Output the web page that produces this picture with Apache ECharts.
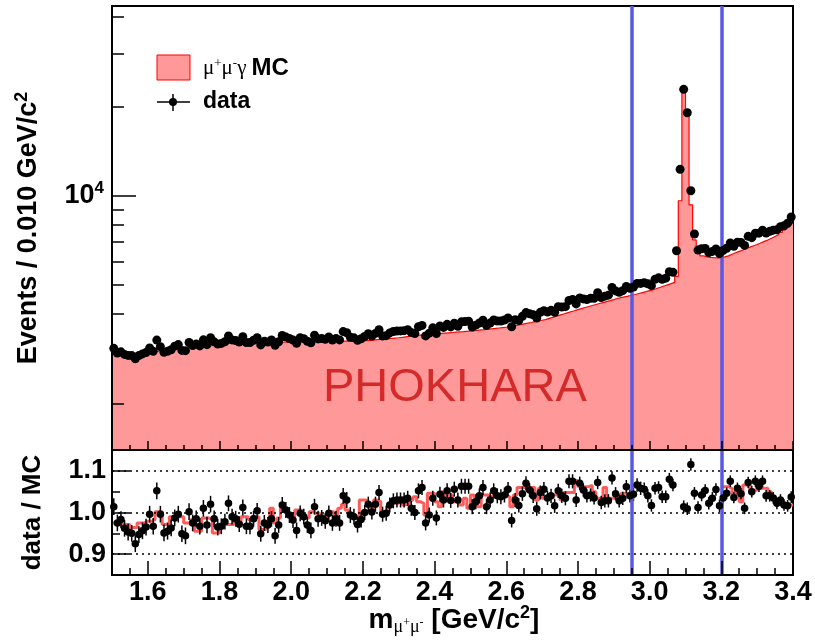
<!DOCTYPE html>
<html>
<head>
<meta charset="utf-8">
<script src="https://cdn.jsdelivr.net/npm/echarts@6/dist/echarts.min.js"></script>
<style>
html,body{margin:0;padding:0;background:#fff}
#chart{width:815px;height:642px}
</style>
</head>
<body>
<div id="chart"></div>
<script>
// binning: 0.010 GeV/c^2 bins from 1.50 to 3.40
var binStart = 1.5, binWidth = 0.01;

// mu+mu-gamma MC (PHOKHARA), events per bin
var mcCounts = [
 2920,2925,2930,2935,2940,2945,2950,2955,2965,2970,
 2980,2990,3000,3010,3020,3030,3040,3050,3060,3070,
 3080,3090,3100,3110,3120,3130,3140,3150,3160,3170,
 3180,3185,3190,3192,3194,3196,3198,3200,3200,3200,
 3202,3203,3205,3206,3208,3209,3210,3211,3213,3214,
 3215,3218,3220,3223,3225,3228,3230,3233,3235,3238,
 3240,3240,3241,3241,3242,3242,3243,3243,3244,3244,
 3251,3259,3267,3277,3285,3293,3302,3310,3318,3326,
 3336,3350,3364,3375,3386,3394,3402,3409,3417,3424,
 3432,3440,3448,3456,3464,3472,3480,3487,3496,3504,
 3512,3522,3533,3543,3555,3565,3575,3586,3597,3608,
 3618,3639,3660,3681,3703,3723,3744,3766,3786,3808,
 3828,3863,3896,3931,3965,3999,4033,4068,4101,4136,
 4170,4203,4236,4270,4302,4336,4369,4402,4435,4469,
 4508,4537,4566,4594,4623,4651,4686,4721,4755,4790,
 4825,4872,4918,4965,5012,5059,5110,5350,9620,22500,
 18860,9320,7100,6480,6273,6222,6202,6191,6181,6191,
 6222,6273,6355,6426,6497,6569,6640,6712,6783,6854,
 6936,7018,7099,7191,7293,7405,7528,7670,7844,8058
];

// data, events per bin
var dataCounts = [
 3064,2952,2981,2922,2900,2896,2824,2896,2934,2966,
 3072,2993,3266,3103,2973,2995,3030,3116,3154,3015,
 3009,3204,3129,3171,3122,3272,3152,3325,3222,3166,
 3183,3224,3374,3271,3256,3215,3350,3203,3203,3262,
 3327,3146,3234,3218,3270,3135,3223,3383,3345,3306,
 3268,3188,3326,3303,3238,3197,3390,3296,3304,3284,
 3346,3269,3304,3270,3489,3456,3337,3323,3261,3301,
 3359,3430,3371,3439,3539,3368,3380,3452,3491,3502,
 3507,3514,3537,3462,3436,3622,3659,3373,3446,3592,
 3438,3645,3603,3689,3617,3720,3637,3762,3770,3779,
 3614,3667,3728,3812,3657,3726,3817,3785,3788,3815,
 3877,3623,3825,3798,3926,4042,4004,3974,3877,4049,
 4102,4057,4112,4053,4232,4220,4231,4438,4474,4323,
 4527,4495,4470,4515,4519,4717,4539,4592,4626,4910,
 4781,4733,4791,4951,4879,4928,5069,5068,5095,5054,
 4979,5230,5290,5229,5279,5545,5527,6530,12270,22810,
 19030,10390,7430,6560,6632,6648,6431,6496,6617,6383,
 6535,6658,6932,6755,6975,6965,6805,7300,7227,7477,
 7481,7655,7492,7589,7659,7679,7867,7923,8086,8479
];

// data / MC points in the lower pad (null = off scale)
var ratioPts = [
 1.014,0.975,0.983,0.962,0.953,0.950,0.925,0.947,0.956,0.965,
 0.996,0.967,1.052,0.996,0.951,0.955,0.963,0.987,0.996,0.949,
 0.944,1.002,0.975,0.985,0.967,1.010,0.970,1.020,0.985,0.965,
 0.967,0.978,1.022,0.990,0.985,0.972,1.012,0.967,0.967,0.985,
 1.004,0.949,0.975,0.970,0.985,0.944,0.970,1.018,1.006,0.994,
 0.982,0.957,0.998,0.990,0.970,0.957,1.014,0.985,0.987,0.980,
 0.998,0.975,0.985,0.975,1.040,1.030,0.994,0.990,0.971,0.983,
 1.000,1.020,1.001,1.020,1.048,0.996,0.998,1.018,1.028,1.030,
 1.030,1.030,1.034,1.010,1.000,1.052,1.060,0.975,0.994,1.034,
 0.987,1.044,1.030,1.052,1.029,1.056,1.030,1.063,1.063,1.063,
 1.014,1.026,1.040,1.060,1.014,1.030,1.052,1.040,1.038,1.042,
 1.056,0.981,1.030,1.017,1.045,1.070,1.054,1.040,1.009,1.048,
 1.056,1.035,1.040,1.016,1.052,1.040,1.034,1.075,1.075,1.030,
 1.070,1.054,1.040,1.042,1.035,1.072,1.024,1.028,1.028,1.083,
 1.045,1.028,1.034,1.062,1.040,1.044,1.066,1.058,1.056,1.040,
 1.017,1.058,1.060,1.038,1.038,1.080,1.066,null,null,1.014,
 1.009,1.115,1.046,1.012,1.042,1.053,1.022,1.034,1.055,1.016,
 1.035,1.046,1.075,1.036,1.058,1.045,1.010,1.072,1.050,1.075,
 1.063,1.075,1.040,1.040,1.035,1.022,1.030,1.018,1.016,1.037
];

// half length of the error bars, one value per 0.1 GeV group
var ratioErrByGroup = [0.020,0.020,0.020,0.019,0.019,0.019,0.019,0.018,0.018,0.018,
                       0.018,0.017,0.017,0.016,0.016,0.015,0.015,0.014,0.014];

// red histogram in the lower pad (not shown inside the cut window)
var altRatio = [
 0.975,0.975,0.971,0.971,0.971,0.964,0.964,0.975,0.975,0.979,
 0.979,0.983,1.002,1.002,0.971,0.975,0.990,0.990,0.990,0.990,
 0.975,0.975,0.983,0.955,0.955,0.987,0.987,0.983,0.951,0.951,
 0.967,0.979,0.971,0.971,0.983,0.971,0.990,0.990,0.983,0.990,
 0.990,0.959,0.959,0.975,1.010,0.975,0.987,1.010,1.010,0.990,
 0.990,1.006,1.006,0.987,0.987,1.002,0.998,0.998,0.987,0.987,
 1.002,1.002,0.990,1.010,1.020,1.006,0.994,0.994,0.987,1.030,
 1.030,1.018,1.010,1.030,1.026,1.002,1.002,1.022,1.022,1.022,
 1.034,1.018,1.022,1.030,1.038,1.026,1.022,0.994,1.046,1.046,
 1.026,1.014,1.050,1.034,1.042,1.026,1.026,1.018,1.034,1.010,
 1.042,1.034,1.014,1.042,1.042,1.030,1.040,1.036,1.044,1.040,
 1.038,1.014,1.042,1.060,1.060,1.060,1.060,1.060,1.030,1.058,
 1.034,1.034,1.042,1.042,1.042,1.030,1.048,1.048,1.048,1.077,
 1.062,1.062,1.062,1.065,1.050,1.034,1.034,1.060,1.034,1.034,
 1.034,1.034,1.046,1.046,1.046,null,null,null,null,null,
 null,null,null,null,null,null,null,null,null,null,
 null,null,null,null,null,null,null,null,null,null,
 1.062,1.062,1.058,1.042,1.062,1.026,1.066,1.066,1.054,1.054,
 1.058,1.058,1.058,1.050,1.034,1.026,1.026,1.018,1.018,1.018
];

var cutLines = [2.95, 3.20];
var xMajorTicks = [1.6,1.8,2.0,2.2,2.4,2.6,2.8,3.0,3.2,3.4];
var xMinorTicks = [1.55,1.65,1.7,1.75,1.85,1.9,1.95,2.05,2.1,2.15,2.25,2.3,2.35,2.45,2.5,2.55,
                   2.65,2.7,2.75,2.85,2.9,2.95,3.05,3.1,3.15,3.25,3.3,3.35];
var yMajorTicks = [10000];
var yMinorTicks = [2000,3000,4000,5000,6000,7000,8000,9000,20000,30000,40000];
var rMajorTicks = [0.9,1.0,1.1];
var rMinorTicks = [0.95,1.05];

var FONT = 'Liberation Sans';
var chart = echarts.init(document.getElementById('chart'));

function edge(i) { return binStart + i * binWidth; }
function center(i) { return binStart + (i + 0.5) * binWidth; }

// histogram outline pieces, split where values are missing
function stepSegments(vals) {
    var segs = [], cur = null;
    for (var i = 0; i < vals.length; i++) {
        if (vals[i] == null) { cur = null; continue; }
        if (!cur) { cur = []; segs.push(cur); }
        cur.push([edge(i), vals[i]]);
        if (i == vals.length - 1 || vals[i + 1] == null) cur.push([edge(i + 1), vals[i]]);
    }
    return segs;
}

var dataPts = [], ratioScatter = [], ratioBars = [];
for (var i = 0; i < dataCounts.length; i++) {
    dataPts.push([center(i), dataCounts[i]]);
    if (ratioPts[i] != null) {
        ratioScatter.push([center(i), ratioPts[i]]);
        ratioBars.push([center(i), ratioPts[i], ratioErrByGroup[Math.floor(i / 10)]]);
    }
}

var blueLine = {
    silent: true, symbol: ['none', 'none'], label: {show: false},
    lineStyle: {color: '#5858e0', width: 3.5, type: 'solid', opacity: 1},
    data: cutLines.map(function (v) { return {xAxis: v}; })
};

var tickStyle = {color: '#000', width: 1.5};
function xAx(grid, ticks, len, labels) {
    return {
        type: 'value', gridIndex: grid, min: 1.5, max: 3.4, position: 'bottom', z: 10,
        axisLine: {show: labels !== undefined, lineStyle: {color: '#000', width: 2}},
        axisTick: {show: true, inside: true, length: len, customValues: ticks, lineStyle: tickStyle},
        axisLabel: labels || {show: false},
        splitLine: {show: false}
    };
}

var segs = stepSegments(altRatio);
var series = [
    {
        type: 'line', xAxisIndex: 0, yAxisIndex: 0, step: 'end', symbol: 'none', z: 2,
        data: stepSegments(mcCounts)[0],
        lineStyle: {color: '#ff0000', width: 1.2},
        areaStyle: {color: '#ff9999', opacity: 1, origin: 'start'},
        markLine: blueLine
    },
    {
        type: 'scatter', xAxisIndex: 0, yAxisIndex: 0, z: 5, symbolSize: 9,
        itemStyle: {color: '#000', opacity: 1}, data: dataPts
    }
];
segs.forEach(function (s, k) {
    series.push({
        type: 'line', xAxisIndex: 2, yAxisIndex: 2, step: 'end', symbol: 'none', z: 3,
        data: s, lineStyle: {color: '#ff5a5a', width: 3},
        markLine: k == 0 ? {
            silent: true, symbol: ['none', 'none'], label: {show: false},
            lineStyle: {color: '#000', width: 1.5, type: [2, 4], opacity: 1},
            data: rMajorTicks.map(function (v) { return {yAxis: v}; })
        } : blueLine
    });
});
series.push({
    type: 'custom', xAxisIndex: 2, yAxisIndex: 2, z: 4, data: ratioBars,
    encode: {x: 0, y: 1},
    renderItem: function (params, api) {
        var x = api.value(0), y = api.value(1), e = api.value(2);
        var a = api.coord([x, y - e]), b = api.coord([x, y + e]);
        return {type: 'line', shape: {x1: a[0], y1: a[1], x2: b[0], y2: b[1]},
                style: {stroke: '#000', lineWidth: 1.5}};
    }
});
series.push({
    type: 'scatter', xAxisIndex: 2, yAxisIndex: 2, z: 5, symbolSize: 7.5,
    itemStyle: {color: '#000', opacity: 1}, data: ratioScatter
});

var boldText = {fontFamily: FONT, fontWeight: 'bold', fontSize: 27, color: '#000'};

chart.setOption({
    animation: false,
    backgroundColor: '#fff',
    grid: [
        {left: 112, right: 22, top: 6, height: 444, show: true, borderColor: '#000', borderWidth: 2},
        {left: 112, right: 22, top: 450, height: 125, show: true, borderColor: '#000', borderWidth: 2}
    ],
    xAxis: [
        xAx(0, xMajorTicks, 9, {show: false}),
        xAx(0, xMinorTicks, 5),
        xAx(1, xMajorTicks, 14, {
            show: true, customValues: xMajorTicks, margin: 4,
            fontFamily: FONT, fontWeight: 'bold', fontSize: 27, color: '#000',
            formatter: function (v) { return v.toFixed(1); }
        }),
        xAx(1, xMinorTicks, 7)
    ],
    yAxis: [
        {
            type: 'log', gridIndex: 0, min: 1393, max: 43530, position: 'left', z: 10,
            axisLine: {show: true, lineStyle: {color: '#000', width: 2}},
            axisTick: {show: true, inside: true, length: 24, customValues: yMajorTicks, lineStyle: tickStyle},
            axisLabel: {
                show: true, customValues: yMajorTicks, margin: 8,
                formatter: function () { return '{b|10}{s|4}'; },
                rich: {
                    b: {fontFamily: FONT, fontWeight: 'bold', fontSize: 27, color: '#000'},
                    s: {fontFamily: FONT, fontWeight: 'bold', fontSize: 17, color: '#000', padding: [0, 0, 14, 0]}
                }
            },
            splitLine: {show: false},
            name: '{t|Events / 0.010 GeV/c}{s|2}', nameLocation: 'middle', nameRotate: 90, nameGap: 67,
            nameTextStyle: {
                rich: {
                    t: boldText,
                    s: {fontFamily: FONT, fontWeight: 'bold', fontSize: 18, color: '#000', padding: [0, 0, 14, 0]}
                }
            }
        },
        {
            type: 'log', gridIndex: 0, min: 1393, max: 43530, position: 'left', z: 10,
            axisLine: {show: false},
            axisTick: {show: true, inside: true, length: 12, customValues: yMinorTicks, lineStyle: tickStyle},
            axisLabel: {show: false}, splitLine: {show: false}
        },
        {
            type: 'value', gridIndex: 1, min: 0.85, max: 1.15, position: 'left', z: 10,
            axisLine: {show: true, lineStyle: {color: '#000', width: 2}},
            axisTick: {show: true, inside: true, length: 18, customValues: rMajorTicks, lineStyle: tickStyle},
            axisLabel: {
                show: true, customValues: rMajorTicks, margin: 6,
                fontFamily: FONT, fontWeight: 'bold', fontSize: 27, color: '#000',
                formatter: function (v) { return v.toFixed(1); }
            },
            splitLine: {show: false},
            name: 'data / MC', nameLocation: 'middle', nameRotate: 90, nameGap: 66,
            nameTextStyle: {fontFamily: FONT, fontWeight: 'bold', fontSize: 26, color: '#000'}
        },
        {
            type: 'value', gridIndex: 1, min: 0.85, max: 1.15, position: 'left', z: 10,
            axisLine: {show: false},
            axisTick: {show: true, inside: true, length: 8, customValues: rMinorTicks, lineStyle: tickStyle},
            axisLabel: {show: false}, splitLine: {show: false}
        }
    ],
    series: series,
    graphic: [
        {type: 'rect', shape: {x: 157, y: 55, width: 33, height: 25},
         style: {fill: '#ff9999', stroke: '#ff0000', lineWidth: 1}},
        {type: 'text', x: 203, y: 68, style: {
            text: '{g|μ}{p|+}{g|μ}{p|-}{g|γ}{b|MC}', verticalAlign: 'middle',
            rich: {
                g: {fontFamily: 'Liberation Serif', fontSize: 21, fill: '#000'},
                p: {fontFamily: 'Liberation Serif', fontSize: 13, fill: '#000', padding: [0, 0, 9, 0]},
                b: {fontFamily: FONT, fontWeight: 'bold', fontSize: 24, fill: '#000', padding: [0, 0, 0, 5]}
            }}},
        {type: 'line', shape: {x1: 157, y1: 102, x2: 190, y2: 102}, style: {stroke: '#000', lineWidth: 1.5}},
        {type: 'line', shape: {x1: 173, y1: 94, x2: 173, y2: 111}, style: {stroke: '#000', lineWidth: 1.5}},
        {type: 'circle', shape: {cx: 173, cy: 102, r: 4}, style: {fill: '#000'}},
        {type: 'text', x: 203, y: 102, style: {
            text: 'data', verticalAlign: 'middle',
            font: 'bold 23px "Liberation Sans"', fill: '#000'}},
        {type: 'text', x: 323, y: 388, z: 3, style: {
            text: 'PHOKHARA', verticalAlign: 'middle',
            font: '47px "Liberation Sans"', fill: '#d42a2a'}},
        {type: 'text', x: 454, y: 620, style: {
            text: '{m|m}{s|μ}{p|+}{s|μ}{p|-}{t| [GeV/c}{u|2}{t|]}', align: 'center', verticalAlign: 'middle',
            rich: {
                m: {fontFamily: FONT, fontWeight: 'bold', fontSize: 28, fill: '#000'},
                s: {fontFamily: 'Liberation Serif', fontSize: 18, fill: '#000', padding: [14, 0, 0, 0]},
                p: {fontFamily: 'Liberation Serif', fontSize: 12, fill: '#000', padding: [6, 0, 0, 0]},
                t: {fontFamily: FONT, fontWeight: 'bold', fontSize: 28, fill: '#000'},
                u: {fontFamily: FONT, fontWeight: 'bold', fontSize: 18, fill: '#000', padding: [0, 0, 14, 0]}
            }}}
    ]
});
</script>
</body>
</html>
